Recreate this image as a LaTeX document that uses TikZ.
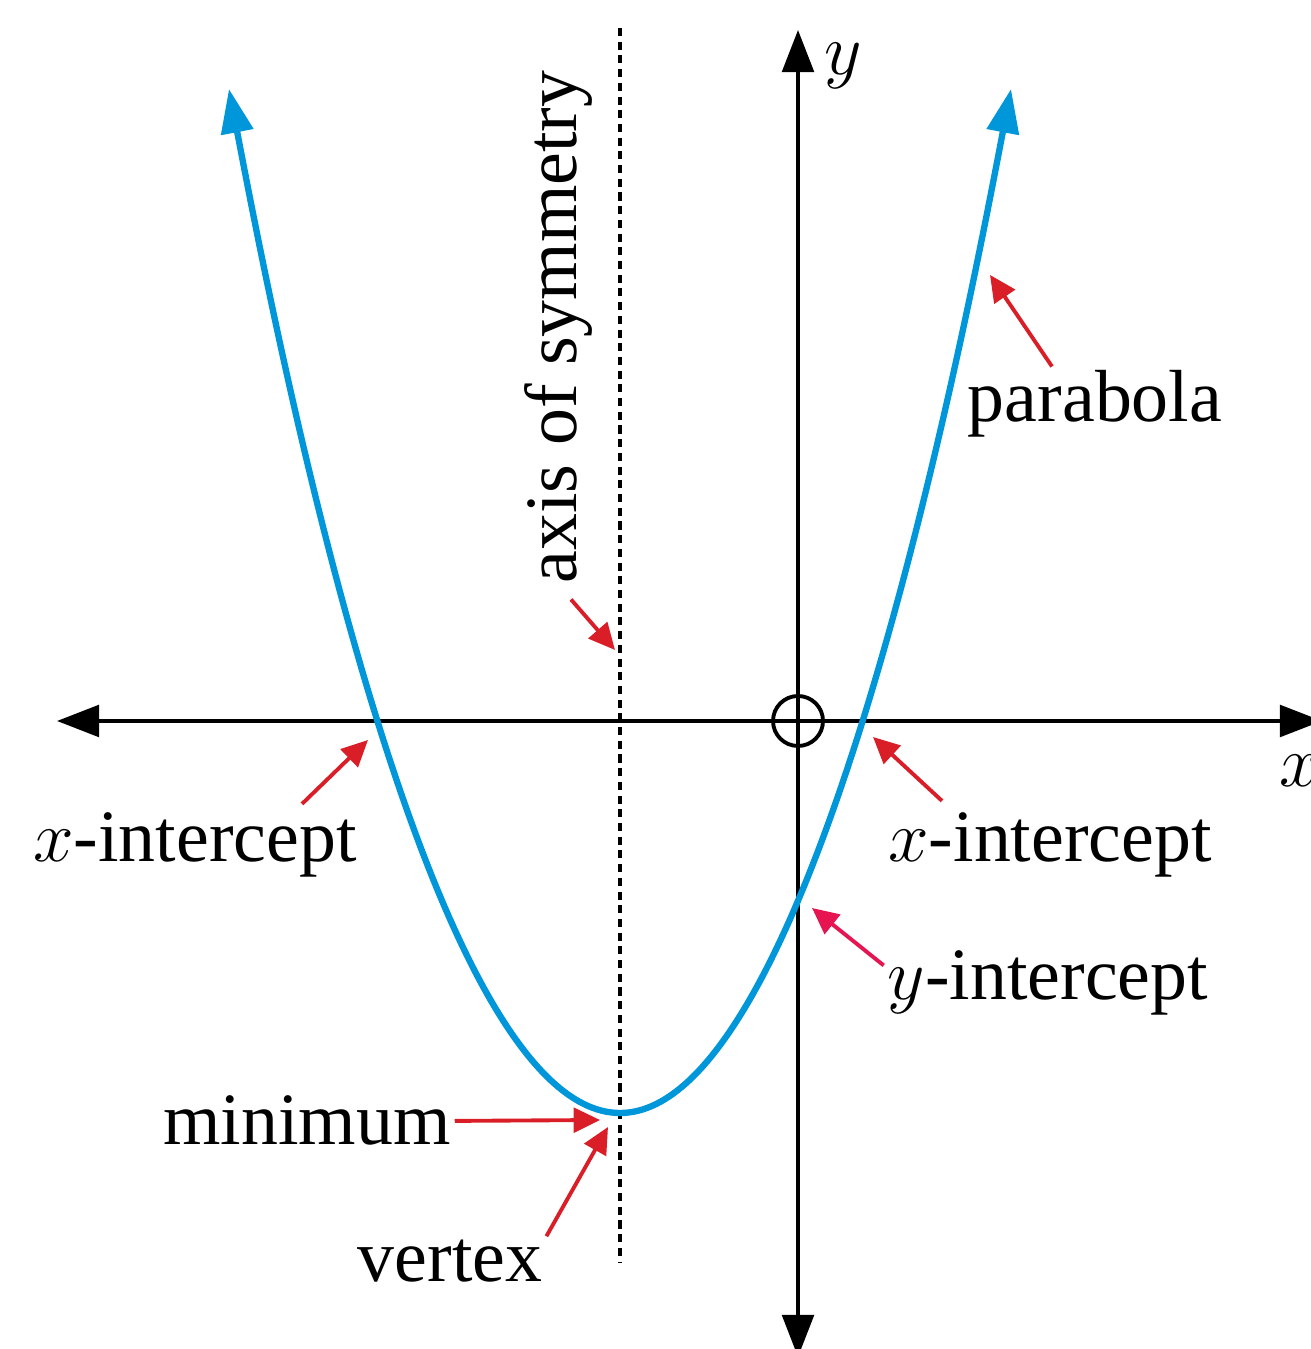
\documentclass[tikz,border=0pt]{standalone}
\usepackage{fontspec}
\setmainfont{Liberation Serif}
\usetikzlibrary{arrows.meta}
\definecolor{curveblue}{RGB}{0,150,218}
\definecolor{ptrred}{RGB}{218,30,40}
\definecolor{ptrpink}{RGB}{230,20,80}
\tikzset{axisline/.style={line width=1.1pt,{Triangle[length=12pt,width=9pt]}-{Triangle[length=12pt,width=9pt]}}}
\tikzset{curve/.style={curveblue,line width=1.8pt,{Triangle[length=12.5pt,width=9pt]}-{Triangle[length=12.5pt,width=9pt]}}}
\tikzset{pointer/.style={ptrred,line width=1.1pt,-{Triangle[length=7.5pt,width=7pt]}}}
\tikzset{note/.style={font=\fontsize{21}{24}\selectfont,inner sep=1pt,anchor=base}}
\tikzset{symline/.style={line width=1.1pt,dash pattern=on 2.3pt off 1.6pt}}

\begin{document}
\begin{tikzpicture}
  \useasboundingbox (0,0) rectangle (13.1,13.49);
  % axes
  \coordinate (x-min) at (0.57,6.28);
  \coordinate (x-max) at (13.22,6.28);
  \coordinate (y-min) at (7.98,-0.08);
  \coordinate (y-max) at (7.98,13.19);
  \draw [axisline] (x-min) -- (x-max);
  \draw [axisline] (y-min) -- (y-max);
  \node [draw,circle,line width=1.1pt,minimum size=0.5cm,inner sep=0pt] (origin) at (7.98,6.28) {};
  \node [note] (ylab) at (8.43,12.74) {$y$};
  \node [note] (xlab) at (13.0,5.62) {$x$};
  % axis of symmetry
  \coordinate (sym-top) at (6.20,13.21);
  \coordinate (sym-bot) at (6.20,0.87);
  \draw [symline] (sym-top) -- (sym-bot);
  % parabola
  \coordinate (vtx) at (6.20,2.36);
  \coordinate (arm-l) at (2.29,12.6);
  \coordinate (arm-r) at (10.11,12.6);
  \draw [curve] (arm-l) parabola bend (vtx) (arm-r);
  % labels
  \node [note] (parab) at (10.95,9.27) {parabola};
  \node [note,rotate=90] (sym) at (5.76,10.22) {axis of symmetry};
  \node [note] (xint-l) at (1.95,4.87) {$x$-intercept};
  \node [note] (xint-r) at (10.50,4.87) {$x$-intercept};
  \node [note] (yint) at (10.48,3.49) {$y$-intercept};
  \node [note] (mini) at (3.07,2.04) {minimum};
  \node [note] (vert) at (4.50,0.67) {vertex};
  % pointers
  \coordinate (parab-tip) at (9.90,10.74);
  \coordinate (sym-tip) at (6.15,6.99);
  \coordinate (xint-l-tip) at (3.68,6.09);
  \coordinate (xint-r-tip) at (8.73,6.12);
  \coordinate (yint-tip) at (8.12,4.41);
  \coordinate (mini-tip) at (6.00,2.29);
  \coordinate (vert-tip) at (6.08,2.22);
  \draw [pointer] ([xshift=-4.3mm]parab.north) -- (parab-tip);
  \draw [pointer] ([shift={(0.13,-0.12)}]sym.west) -- (sym-tip);
  \draw [pointer] ([xshift=10.7mm,yshift=0.5mm]xint-l.north) -- (xint-l-tip);
  \draw [pointer] ([xshift=-10.8mm,yshift=0.8mm]xint-r.north) -- (xint-r-tip);
  \draw [pointer,ptrpink] ([yshift=1.8mm]yint.west) -- (yint-tip);
  \draw [pointer] (mini.east) -- (mini-tip);
  \draw [pointer] (vert.north east) -- (vert-tip);
\end{tikzpicture}
\end{document}
